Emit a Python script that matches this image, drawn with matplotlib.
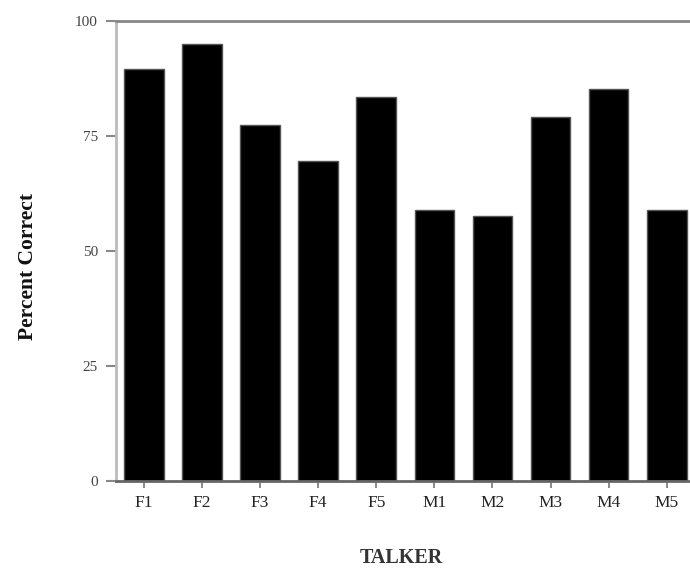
import matplotlib
matplotlib.use("Agg")
import matplotlib.pyplot as plt
import numpy as np

# Percent correct identification per talker
talkers = ["F1", "F2", "F3", "F4", "F5", "M1", "M2", "M3", "M4", "M5"]
percent_correct = [89.4, 95.0, 77.4, 69.4, 83.3, 58.8, 57.5, 79.0, 85.2, 58.8]
y_ticks = [0, 25, 50, 75, 100]

plt.rcParams["font.family"] = ["Liberation Serif", "DejaVu Serif"]

fig = plt.figure(figsize=(6.9, 5.71), dpi=100)
ax = fig.add_axes([0.168, 0.158, 0.832, 0.806])

x = np.arange(len(talkers))
ax.bar(x, percent_correct, width=0.68, color="black",
       edgecolor="#555555", linewidth=1.0)

ax.set_xlim(-0.48, len(talkers) - 0.6)
ax.set_ylim(0, 100)
ax.set_yticks(y_ticks)
ax.set_yticklabels([str(v) for v in y_ticks], fontsize=11, color="#444444")
ax.set_xticks(x)
ax.set_xticklabels(talkers, fontsize=12.5, color="#222222")

ax.tick_params(axis="y", direction="out", length=7, width=1.5,
               color="#888888", pad=6)
ax.tick_params(axis="x", direction="out", length=5, width=1.2,
               color="#777777", pad=5)

ax.spines["right"].set_visible(False)
ax.spines["left"].set_color("#bbbbbb")
ax.spines["left"].set_linewidth(2.0)
ax.spines["top"].set_color("#888888")
ax.spines["top"].set_linewidth(2.0)
ax.spines["bottom"].set_color("#666666")
ax.spines["bottom"].set_linewidth(2.0)

ax.set_ylabel("Percent Correct", fontsize=15.5, fontweight="bold",
              color="#111111")
ax.yaxis.set_label_coords(-0.136, 0.465)
ax.set_xlabel("TALKER", fontsize=14.5, fontweight="bold", color="#333333")
ax.xaxis.set_label_coords(0.497, -0.146)

fig.savefig("out.png", dpi=100)
